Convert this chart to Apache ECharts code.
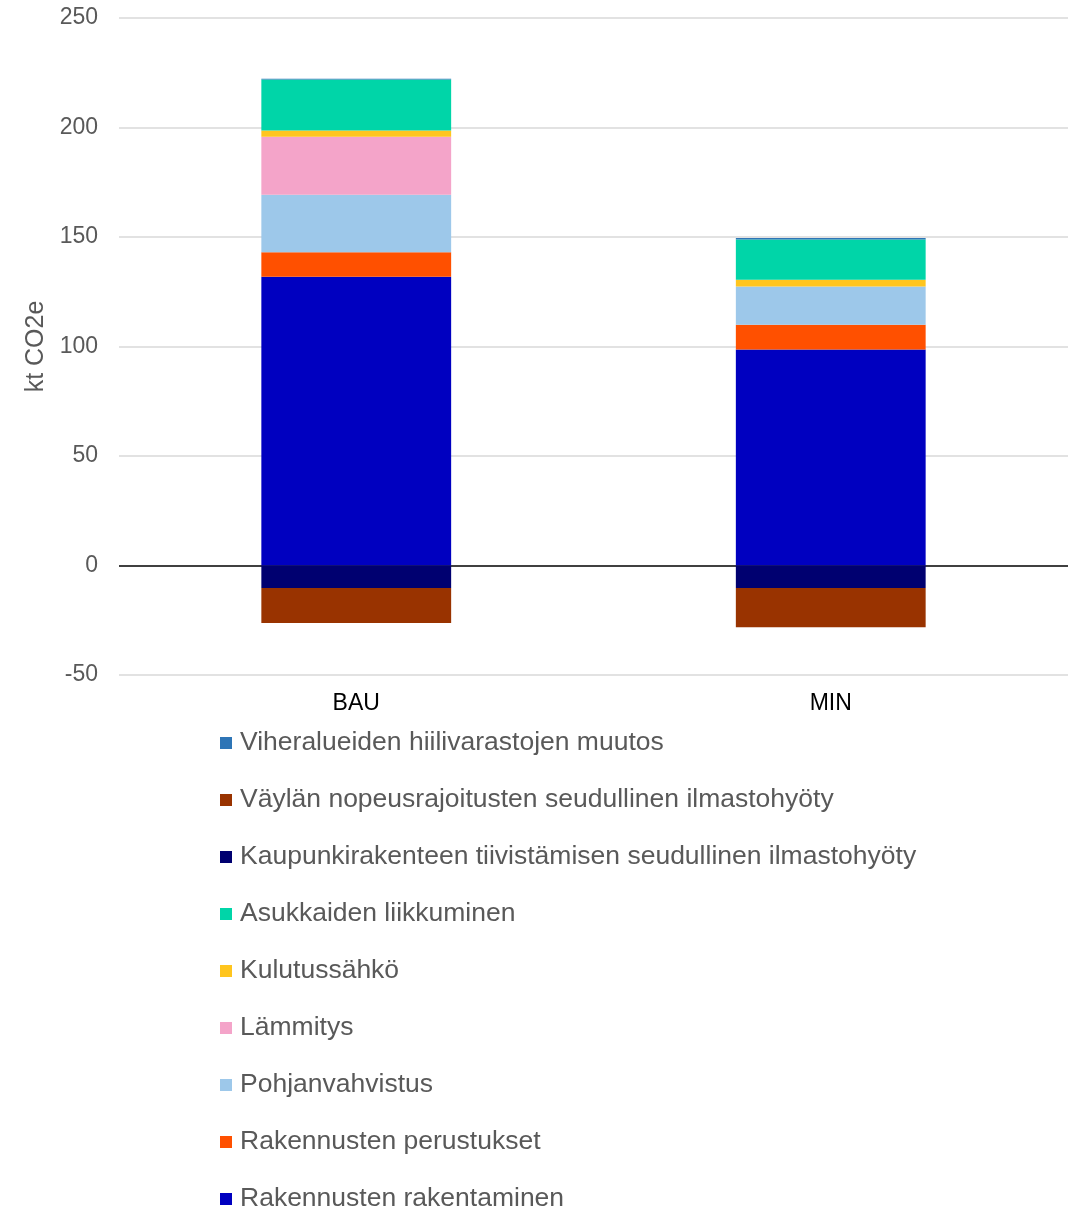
<!DOCTYPE html>
<html>
<head>
<meta charset="utf-8">
<script src="https://cdn.jsdelivr.net/npm/echarts@6/dist/echarts.min.js"></script>
<style>
  html, body { margin: 0; padding: 0; background: #fff; }
  #chart { width: 1069px; height: 1207px; }
</style>
</head>
<body>
<div id="chart"></div>
<script>
// Scenarios
const categories = ['BAU', 'MIN'];

// Emission components, kt CO2e (stacked from the bottom up)
const rakentaminen   = [131.9, 98.6];   // Rakennusten rakentaminen
const perustukset    = [11.1, 11.3];    // Rakennusten perustukset
const pohjanvahvistus = [26.3, 17.5];   // Pohjanvahvistus
const lammitys       = [26.5, 0];       // Lämmitys
const kulutussahko   = [2.8, 3.1];      // Kulutussähkö
const liikkuminen    = [23.3, 18.4];    // Asukkaiden liikkuminen
const tiivistaminen  = [-10.3, -10.3];  // Kaupunkirakenteen tiivistämisen seudullinen ilmastohyöty
const nopeusrajoitus = [-16.0, -17.9];  // Väylän nopeusrajoitusten seudullinen ilmastohyöty
const viheralueet    = [0.4, 0.6];      // Viheralueiden hiilivarastojen muutos

// Value axis ticks
const yTicks = [-50, 0, 50, 100, 150, 200, 250];

const seriesDefs = [
  ['Rakennusten rakentaminen', rakentaminen, '#0000C0'],
  ['Rakennusten perustukset', perustukset, '#FF5000'],
  ['Pohjanvahvistus', pohjanvahvistus, '#9DC8EA'],
  ['Lämmitys', lammitys, '#F4A4C9'],
  ['Kulutussähkö', kulutussahko, '#FFC51E'],
  ['Asukkaiden liikkuminen', liikkuminen, '#00D5A8'],
  ['Kaupunkirakenteen tiivistämisen seudullinen ilmastohyöty', tiivistaminen, '#000070'],
  ['Väylän nopeusrajoitusten seudullinen ilmastohyöty', nopeusrajoitus, '#993300'],
  ['Viheralueiden hiilivarastojen muutos', viheralueet, '#2E75B6']
];

const chart = echarts.init(document.getElementById('chart'));

// zero line drawn black, the rest light grey
const gridColors = yTicks.map(v => v === 0 ? '#000000' : '#d9d9d9');

chart.setOption({
  animation: false,
  textStyle: { fontFamily: 'Liberation Sans, Arial, sans-serif' },
  grid: { left: 119, right: 1, top: 18, bottom: 532 },
  xAxis: {
    type: 'category',
    data: categories,
    axisLine: { show: false },
    axisTick: { show: false },
    axisLabel: { color: '#000', fontSize: 23, margin: 17 }
  },
  yAxis: {
    type: 'value',
    min: yTicks[0],
    max: yTicks[yTicks.length - 1],
    interval: 50,
    name: 'kt CO2e',
    nameLocation: 'middle',
    nameGap: 70,
    nameTextStyle: { color: '#595959', fontSize: 25 },
    axisLine: { show: false },
    axisTick: { show: false },
    axisLabel: { color: '#595959', fontSize: 23, margin: 21 },
    splitLine: { lineStyle: { color: gridColors, width: 1.5 } }
  },
  legend: {
    orient: 'vertical',
    left: 220,
    top: 728,
    height: 700,
    padding: 0,
    itemWidth: 12,
    itemHeight: 12,
    itemGap: 27,
    icon: 'rect',
    textStyle: { color: '#595959', fontSize: 26.5, lineHeight: 30, padding: [0, 0, 0, 3] },
    data: seriesDefs.map(d => d[0]).reverse()
  },
  series: seriesDefs.map(([name, data, color]) => ({
    name,
    type: 'bar',
    stack: 'total',
    barWidth: '40%',
    data,
    itemStyle: { color }
  }))
});
</script>
</body>
</html>
